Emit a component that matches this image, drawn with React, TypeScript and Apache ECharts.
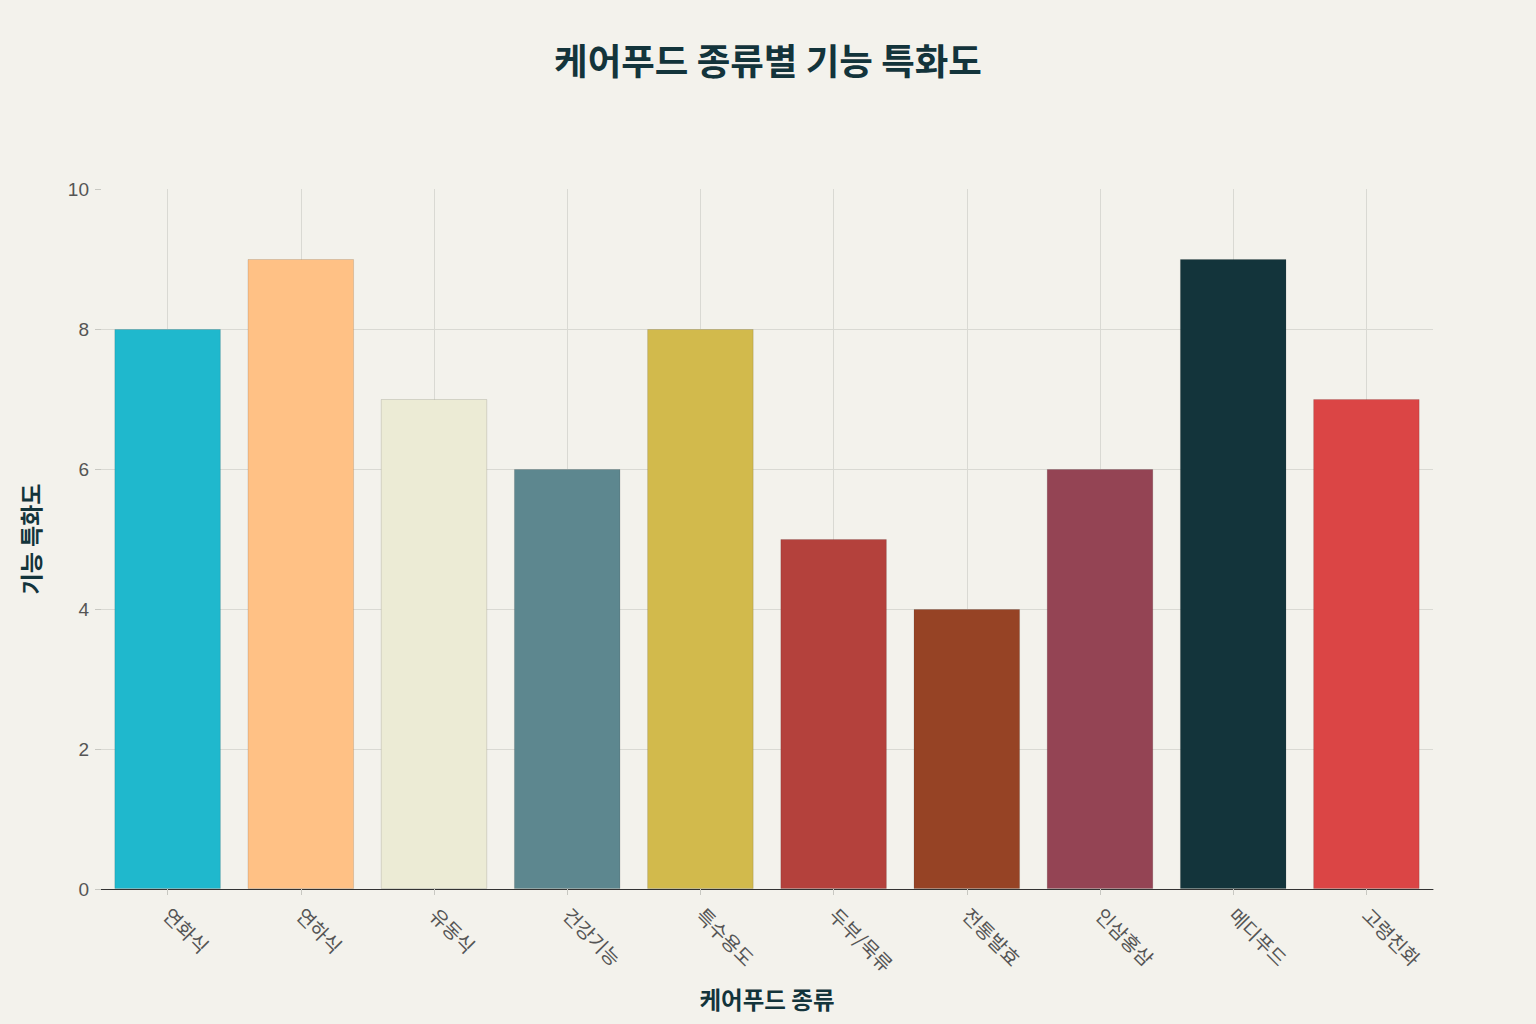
import React, { useEffect, useRef } from 'react'
import * as echarts from 'echarts'

const categories = ['연화식', '연하식', '유동식', '건강기능', '특수용도', '두부/묵류', '전통발효', '인삼홍삼', '메디푸드', '고령친화']
const scores = [8, 9, 7, 6, 8, 5, 4, 6, 9, 7]
const barColors = ['#1FB8CD', '#FFC185', '#ECEBD5', '#5D878F', '#D2BA4C', '#B4413C', '#964325', '#944454', '#13343B', '#DB4545']

const FONT = '"Noto Sans CJK KR", "Noto Sans", sans-serif'

const App: React.FC = () => {
  const chartRef = useRef<HTMLDivElement>(null)

  useEffect(() => {
    document.body.style.margin = '0'
    if (!chartRef.current) return
    const chart = echarts.init(chartRef.current, undefined, { renderer: 'svg' })

    const option: any = {
      animation: false,
      backgroundColor: '#F3F2EC',
      textStyle: { fontFamily: FONT },
      title: {
        text: '케어푸드 종류별 기능 특화도',
        left: 'center',
        top: 36,
        textStyle: { fontSize: 36.5, fontWeight: 'bold', color: '#13343B', fontFamily: FONT }
      },
      grid: { left: 101, right: 103, top: 189, bottom: 135 },
      xAxis: {
        type: 'category',
        data: categories,
        name: '케어푸드 종류',
        nameLocation: 'middle',
        nameGap: 98,
        nameTextStyle: { fontSize: 23.5, fontWeight: 'bold', color: '#13343B', fontFamily: FONT },
        axisLine: { show: true, lineStyle: { color: '#333333', width: 1 } },
        axisTick: { show: true, alignWithLabel: true, length: 6, lineStyle: { color: '#C8C8C2' } },
        axisLabel: { rotate: -45, margin: 22, fontSize: 19.5, color: '#555555', fontFamily: FONT },
        splitLine: { show: true, alignWithLabel: true, lineStyle: { color: '#D9D9D3', width: 1 } }
      },
      yAxis: {
        type: 'value',
        min: 0,
        max: 10,
        interval: 2,
        name: '기능 특화도',
        nameLocation: 'middle',
        nameGap: 60,
        nameRotate: 90,
        nameTextStyle: { fontSize: 23, fontWeight: 'bold', color: '#13343B', fontFamily: FONT },
        axisLine: { show: false },
        axisTick: { show: true, length: 6, lineStyle: { color: '#C8C8C2' } },
        axisLabel: { fontSize: 19, color: '#555555', margin: 12, fontFamily: '"Liberation Sans", sans-serif' },
        splitLine: { show: true, showMaxLine: false, lineStyle: { color: '#D9D9D3', width: 1 } }
      },
      series: [
        {
          type: 'bar',
          barCategoryGap: '20%',
          data: scores.map((v, i) => ({
            value: v,
            itemStyle: { color: barColors[i], borderColor: 'rgba(0,0,0,0.12)', borderWidth: 1 }
          }))
        }
      ]
    }

    chart.setOption(option)
    return () => {
      chart.dispose()
    }
  }, [])

  return <div ref={chartRef} style={{ width: 1536, height: 1024 }} />
}

export default App
